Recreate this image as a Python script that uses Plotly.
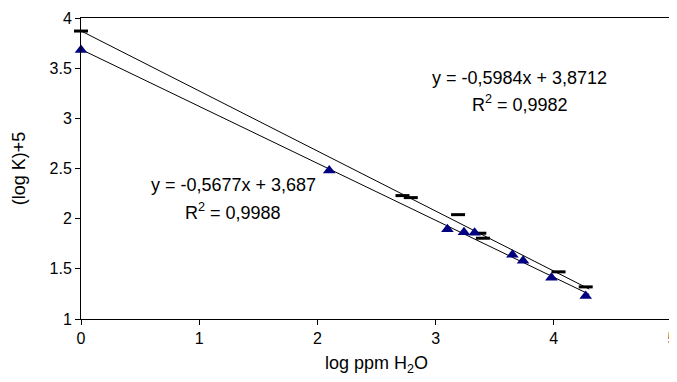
import plotly.graph_objects as go

# Triangles (series 1)
tri_x = [0.0, 2.1, 3.10, 3.24, 3.33, 3.65, 3.74, 3.98, 4.27]
tri_y = [3.68, 2.48, 1.895, 1.865, 1.86, 1.64, 1.58, 1.41, 1.23]
# Dashes (series 2)
dash_x = [0.0, 2.72, 2.79, 3.19, 3.37, 3.40, 4.04, 4.27]
dash_y = [3.87, 2.23, 2.21, 2.04, 1.855, 1.805, 1.47, 1.32]

# Trend line coefficients (as shown in the chart)
slope_tri, icpt_tri = -0.5677, 3.687
slope_dash, icpt_dash = -0.5984, 3.8712
trend_x = [0.0, 4.30]

fig = go.Figure()
fig.add_trace(go.Scatter(x=trend_x, y=[icpt_dash + slope_dash * v for v in trend_x],
                         mode="lines", line=dict(color="black", width=1), showlegend=False))
fig.add_trace(go.Scatter(x=trend_x, y=[icpt_tri + slope_tri * v for v in trend_x],
                         mode="lines", line=dict(color="black", width=1), showlegend=False))
fig.add_trace(go.Scatter(x=dash_x, y=dash_y, mode="markers",
                         marker=dict(symbol="line-ew", size=10, line=dict(color="black", width=3)),
                         showlegend=False, cliponaxis=False))
fig.add_trace(go.Scatter(x=tri_x, y=tri_y, mode="markers",
                         marker=dict(symbol="triangle-up", size=11, color="#000080",
                                     line=dict(width=0)),
                         showlegend=False, cliponaxis=False))

family = "Liberation Sans, Arial, sans-serif"
afont = dict(family=family, size=18, color="black")
ann = [
    dict(x=3.71, y=3.404, text="y = -0,5984x + 3,8712"),
    dict(x=3.71, y=3.146, text="R<sup>2</sup> = 0,9982"),
    dict(x=1.29, y=2.332, text="y = -0,5677x + 3,687"),
    dict(x=1.29, y=2.073, text="R<sup>2</sup> = 0,9988"),
]
# page body adds an 8px offset; compensate in size/margins
fig.update_layout(
    width=669, height=374,
    margin=dict(l=73, r=5, t=10, b=63),
    paper_bgcolor="white", plot_bgcolor="white",
    font=dict(family=family, size=16, color="black"),
    annotations=[dict(a, xref="x", yref="y", showarrow=False, font=afont) for a in ann],
    xaxis=dict(range=[0, 5], dtick=1, showgrid=False, zeroline=False, automargin=False,
               showline=True, linecolor="black", linewidth=1, mirror=True,
               ticks="outside", ticklen=5, tickcolor="black", tickfont=dict(size=16),
               ticklabeloverflow="allow",
               title=dict(text="log ppm H<sub>2</sub>O", font=dict(size=18), standoff=10)),
    yaxis=dict(range=[1, 4], dtick=0.5, showgrid=False, zeroline=False, automargin=False,
               showline=True, linecolor="black", linewidth=1, mirror=True,
               ticks="outside", ticklen=5, tickcolor="black", tickfont=dict(size=16),
               title=dict(text="(log K)+5", font=dict(size=18), standoff=19)),
)
fig.write_html("out.html")
